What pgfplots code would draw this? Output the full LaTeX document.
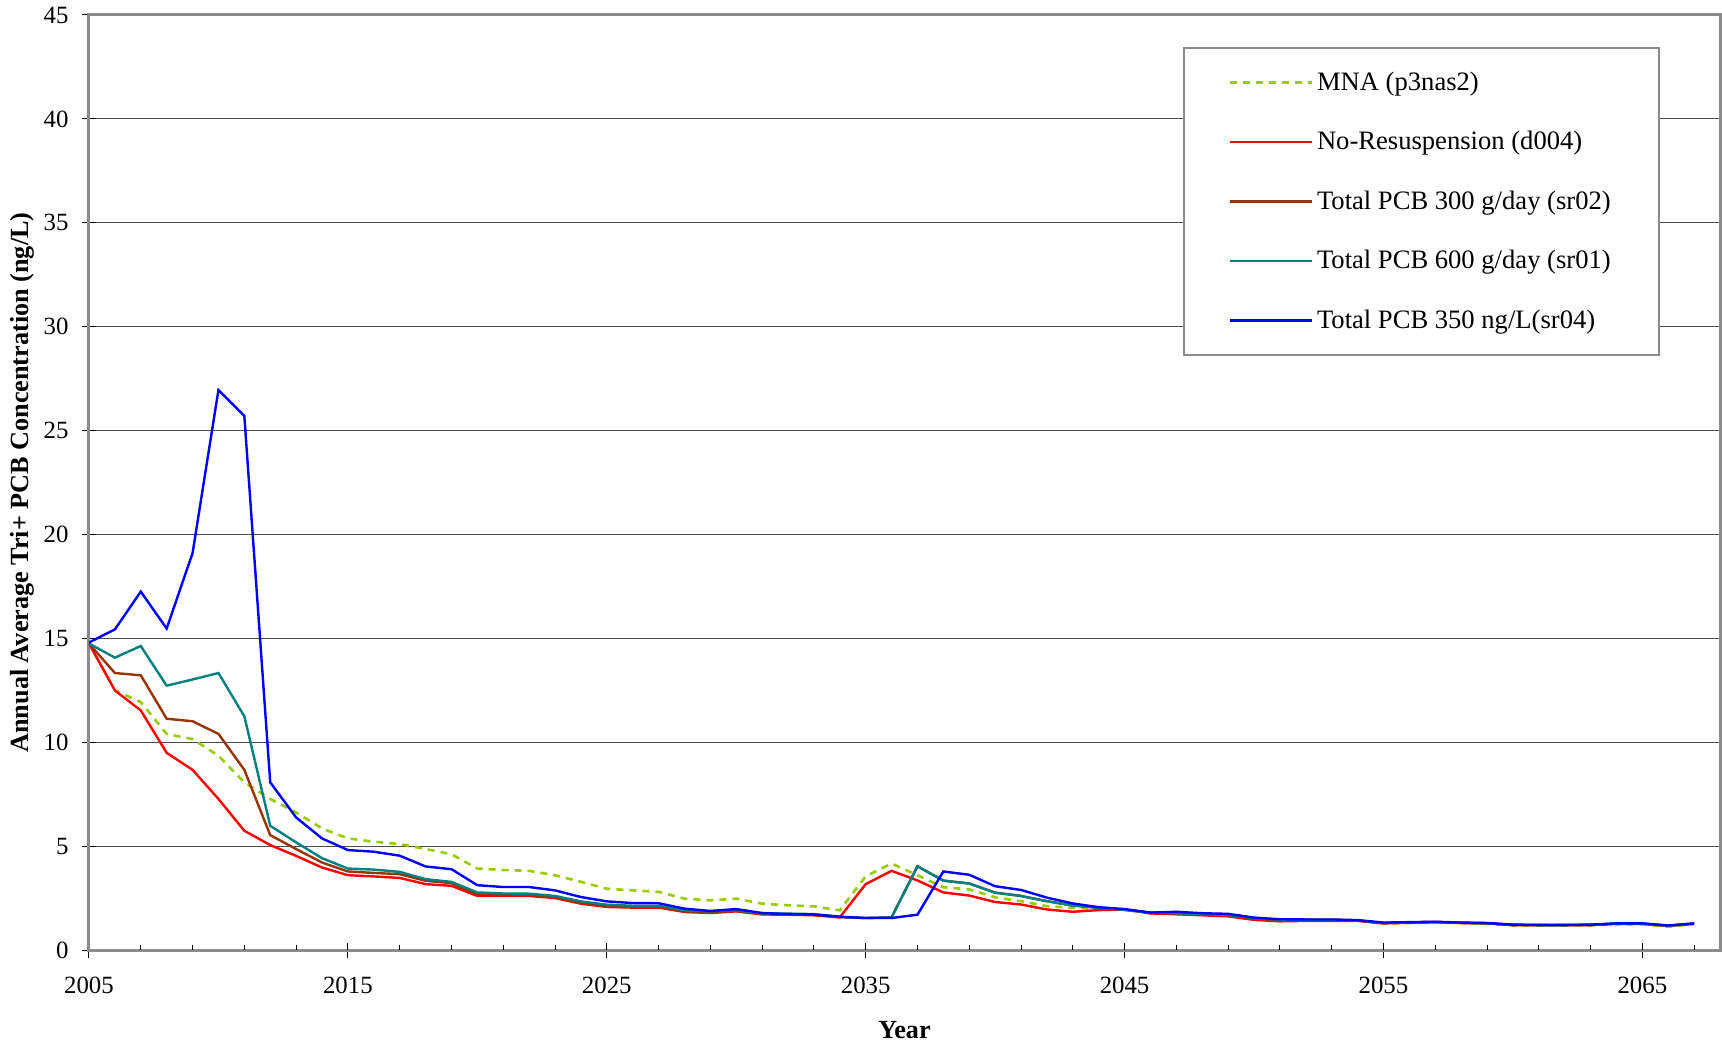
\documentclass[border=0pt]{standalone}
\usepackage{fontspec}
\setmainfont{Liberation Serif}
\usepackage{pgfplots}
\pgfplotsset{compat=1.18}
\usepackage{pgfplotstable}

\definecolor{mnagreen}{HTML}{99CC00}
\definecolor{brn}{HTML}{993300}
\definecolor{tealc}{HTML}{008080}
\definecolor{gridc}{HTML}{4D4D4D}
\definecolor{framec}{HTML}{8C8C8C}

\pgfplotstableread{
year mna red brown teal blue
2005 14.75 14.75 14.75 14.75 14.80
2006 12.50 12.49 13.33 14.07 15.43
2007 11.93 11.53 13.22 14.63 17.25
2008 10.40 9.49 11.13 12.72 15.47
2009 10.15 8.67 11.01 13.02 19.10
2010 9.35 7.27 10.40 13.33 26.95
2011 8.07 5.74 8.67 11.25 25.70
2012 7.27 5.05 5.53 5.98 8.07
2013 6.62 4.53 4.86 5.18 6.38
2014 5.85 3.97 4.21 4.42 5.37
2015 5.37 3.60 3.78 3.92 4.81
2016 5.21 3.54 3.71 3.87 4.73
2017 5.10 3.47 3.65 3.76 4.54
2018 4.86 3.17 3.33 3.41 4.02
2019 4.61 3.09 3.22 3.28 3.89
2020 3.92 2.60 2.69 2.77 3.12
2021 3.85 2.60 2.65 2.72 3.03
2022 3.81 2.60 2.65 2.71 3.03
2023 3.60 2.50 2.55 2.60 2.87
2024 3.28 2.23 2.28 2.34 2.55
2025 2.95 2.07 2.12 2.18 2.34
2026 2.87 2.04 2.08 2.13 2.26
2027 2.80 2.04 2.08 2.13 2.25
2028 2.47 1.83 1.86 1.91 1.99
2029 2.39 1.78 1.81 1.86 1.88
2030 2.47 1.86 1.88 1.92 1.97
2031 2.23 1.71 1.73 1.76 1.78
2032 2.15 1.70 1.72 1.75 1.73
2033 2.10 1.67 1.70 1.73 1.71
2034 1.91 1.57 1.58 1.60 1.60
2035 3.55 3.17 1.54 1.54 1.54
2036 4.16 3.81 1.57 1.57 1.54
2037 3.60 3.35 4.03 4.03 1.70
2038 3.02 2.77 3.34 3.34 3.78
2039 2.92 2.62 3.20 3.20 3.62
2040 2.53 2.31 2.76 2.76 3.07
2041 2.35 2.19 2.60 2.60 2.89
2042 2.11 1.95 2.35 2.35 2.52
2043 2.03 1.84 2.14 2.14 2.24
2044 1.98 1.92 2.03 2.03 2.06
2045 1.96 1.95 1.93 1.93 1.97
2046 1.78 1.76 1.80 1.80 1.80
2047 1.74 1.72 1.77 1.77 1.84
2048 1.70 1.67 1.72 1.72 1.77
2049 1.65 1.62 1.69 1.69 1.74
2050 1.50 1.45 1.53 1.53 1.56
2051 1.42 1.38 1.46 1.46 1.48
2052 1.43 1.40 1.45 1.45 1.47
2053 1.43 1.40 1.45 1.45 1.47
2054 1.42 1.40 1.42 1.42 1.44
2055 1.28 1.28 1.30 1.30 1.32
2056 1.30 1.31 1.33 1.33 1.34
2057 1.33 1.34 1.35 1.35 1.36
2058 1.29 1.30 1.31 1.31 1.32
2059 1.26 1.28 1.29 1.29 1.30
2060 1.18 1.20 1.21 1.21 1.22
2061 1.17 1.19 1.20 1.20 1.21
2062 1.17 1.19 1.20 1.20 1.21
2063 1.18 1.20 1.21 1.21 1.22
2064 1.24 1.26 1.27 1.27 1.28
2065 1.24 1.26 1.27 1.27 1.28
2066 1.12 1.16 1.17 1.17 1.18
2067 1.25 1.26 1.27 1.27 1.28
}\datatable

\begin{document}
\begin{tikzpicture}
\begin{axis}[
  name=ax,
  scale only axis,
  width=815.5pt, height=467.5pt,
  xmin=2005, xmax=2068,
  ymin=0, ymax=45,
  xtick={2005,2015,...,2065},
  ytick={0,5,...,45},
  extra x ticks={2007,2009,...,2067},
  extra x tick labels={},
  extra x tick style={grid=none, xtick align=inside, major tick length=2.5pt},
  xtick pos=bottom, ytick pos=left,
  tick align=center,
  major tick length=7.5pt,
  tick style={black, line width=0.5pt},
  ymajorgrids,
  grid style={gridc, line width=0.6pt},
  axis line style={framec, line width=1.5pt},
  /pgf/number format/.cd, 1000 sep={}, assume math mode=true,
  /pgfplots/.cd,
  tick label style={font=\fontsize{12.4}{14}\selectfont},
  xticklabel style={anchor=center, yshift=-14pt},
  yticklabel style={xshift=-3pt},
  xlabel={Year},
  ylabel={Annual Average Tri+ PCB Concentration (ng/L)},
  label style={font=\fontsize{13.1}{15}\selectfont\bfseries},
  xlabel style={at={(axis description cs:0.5,0)}, anchor=center, yshift=-40pt},
  ylabel style={at={(axis description cs:-0.0411,0.5)}, anchor=center},
  legend cell align=left,
  legend image code/.code={\draw[#1] (0pt,0pt) -- (41pt,0pt);},
  legend style={at={(0.671,0.966)}, anchor=north west, draw=framec, line width=1pt,
    fill=white, font=\fontsize{13.3}{15}\selectfont, row sep=15pt,
    inner xsep=22pt, inner ysep=10pt},
]
\addplot[mnagreen, line width=1.3pt, dash pattern=on 3.5pt off 3pt] table[x=year, y=mna] {\datatable};
\addlegendentry{MNA (p3nas2)}
\addplot[red, line width=1.2pt] table[x=year, y=red] {\datatable};
\addlegendentry{No-Resuspension (d004)}
\addplot[brn, line width=1.2pt] table[x=year, y=brown] {\datatable};
\addlegendentry{Total PCB 300 g/day (sr02)}
\addplot[tealc, line width=1.2pt] table[x=year, y=teal] {\datatable};
\addlegendentry{Total PCB 600 g/day (sr01)}
\addplot[blue, line width=1.2pt] table[x=year, y=blue] {\datatable};
\addlegendentry{Total PCB 350 ng/L(sr04)}
\end{axis}
\pgfresetboundingbox
\path ([shift={(-44.5pt,-48pt)}]ax.south west) rectangle ([shift={(1pt,7.5pt)}]ax.north east);
\end{tikzpicture}
\end{document}
